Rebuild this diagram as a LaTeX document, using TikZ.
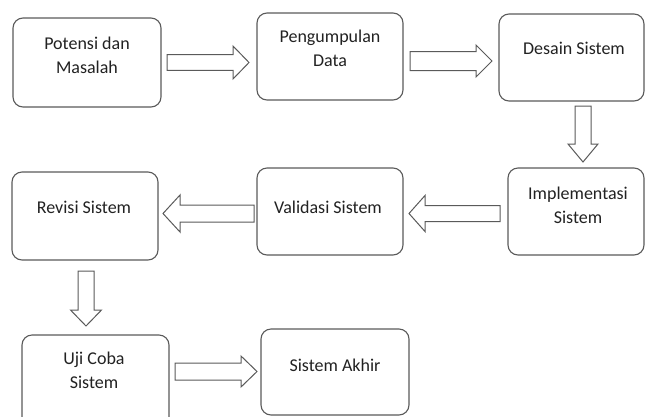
\documentclass[tikz,border=0pt]{standalone}
\usepackage{fontspec}
\setmainfont{Carlito}
\definecolor{edge}{HTML}{5A5A5A}
\definecolor{ink}{HTML}{222222}
\tikzset{
  stagebox/.style={draw=edge, line width=1.1pt, rounded corners=10pt, fill=white, anchor=north west, inner sep=0pt, outer sep=0pt},
  stagetext/.style={text=ink, font=\fontsize{18}{24}\selectfont, align=center, inner sep=0pt},
  blockarrow/.style={draw=edge, line width=1pt, fill=white, line join=miter}
}
% right/left arrow: tail x, head-start x, tip x, centre y, shaft half, head half
\newcommand\rarrowpoly[6]{%
  \draw[blockarrow] (#1,#4-#5) -- (#2,#4-#5) -- (#2,#4-#6) -- (#3,#4) -- (#2,#4+#6) -- (#2,#4+#5) -- (#1,#4+#5) -- cycle;}
% down arrow: centre x, top y, head-start y, tip y, shaft half, head half
\newcommand\darrowpoly[6]{%
  \draw[blockarrow] (#1-#5,#2) -- (#1+#5,#2) -- (#1+#5,#3) -- (#1+#6,#3) -- (#1,#4) -- (#1-#6,#3) -- (#1-#5,#3) -- cycle;}
\begin{document}
\begin{tikzpicture}[x=1pt,y=-1pt]
\useasboundingbox (0,0) rectangle (645,416);
% boxes
\node[stagebox, minimum width=148pt, minimum height=89pt] (b1) at (13,18) {};
\node[stagebox, minimum width=146pt, minimum height=87pt] (b2) at (257,13) {};
\node[stagebox, minimum width=145pt, minimum height=87pt] (b3) at (499,14) {};
\node[stagebox, minimum width=136pt, minimum height=87pt] (b4) at (508,168) {};
\node[stagebox, minimum width=146pt, minimum height=87pt] (b5) at (257,168) {};
\node[stagebox, minimum width=146pt, minimum height=88pt] (b6) at (12,172) {};
\node[stagebox, minimum width=147pt, minimum height=93pt] (b7) at (22,335) {};
\node[stagebox, minimum width=148pt, minimum height=86pt] (b8) at (261,329) {};
% texts
\node[stagetext] (t1) at (87,55) {Potensi dan\\Masalah};
\node[stagetext] (t2) at (330,48.5) {Pengumpulan\\Data};
\node[stagetext] (t3) at (574,48) {Desain Sistem};
\node[stagetext] (t4) at (578,205) {Implementasi\\Sistem};
\node[stagetext] (t5) at (328,207) {Validasi Sistem};
\node[stagetext] (t6) at (84,207) {Revisi Sistem};
\node[stagetext] (t7) at (94,370.5) {Uji Coba\\Sistem};
\node[stagetext] (t8) at (335,365) {Sistem Akhir};
% block arrows
\rarrowpoly{167}{233}{249}{62.5}{7.8}{16.5}
\rarrowpoly{410}{476}{492}{61}{9.5}{16}
\darrowpoly{583}{106}{144}{162}{8}{15}
\rarrowpoly{500}{425}{409}{213.5}{8}{18}
\rarrowpoly{254}{180}{163}{213.5}{8.5}{18.5}
\darrowpoly{86}{271}{310}{326}{8}{15.5}
\rarrowpoly{175}{241}{257}{371.5}{8.5}{15.5}
\end{tikzpicture}
\end{document}
